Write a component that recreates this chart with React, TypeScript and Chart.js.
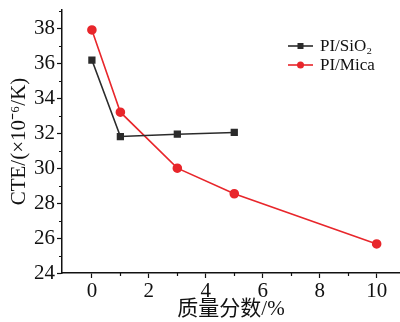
import React, { useEffect, useRef } from "react";
import { Chart, registerables } from "chart.js";

Chart.register(...registerables);

const sio2X = [0, 1, 3, 5];
const sio2Y = [36.17, 31.8, 31.93, 32.03];
const micaX = [0, 1, 3, 5, 10];
const micaY = [37.89, 33.19, 29.99, 28.53, 25.66];
const seriesLabels = ["PI/SiO\u2082", "PI/Mica"];
const xMajorTicks = [0, 2, 4, 6, 8, 10];
const xMinorTicks = [1, 3, 5, 7, 9];
const yMajorTicks = [24, 26, 28, 30, 32, 34, 36, 38];
const yMinorTicks = [25, 27, 29, 31, 33, 35, 37, 39];
const xTitle = "质量分数/%";
const yTitle = "CTE/(×10\u207B\u2076/K)";

const BLACK = "#2b2b2b";
const RED = "#e8262b";
const FONT = "'Liberation Serif', 'Times New Roman', 'Noto Sans CJK SC', serif";

const extrasPlugin = {
  id: "extras",
  afterDraw(chart: any) {
    const ctx = chart.ctx;
    const xs = chart.scales.x;
    const ys = chart.scales.y;
    const area = chart.chartArea;
    ctx.save();
    ctx.strokeStyle = "#111";
    ctx.lineWidth = 1.2;
    ctx.beginPath();
    xMinorTicks.forEach((v) => {
      const px = Math.round(xs.getPixelForValue(v)) + 0.5;
      ctx.moveTo(px, area.bottom);
      ctx.lineTo(px, area.bottom + 3);
    });
    yMinorTicks.forEach((v) => {
      const py = Math.round(ys.getPixelForValue(v)) + 0.5;
      ctx.moveTo(area.left, py);
      ctx.lineTo(area.left - 3, py);
    });
    ctx.stroke();

    // legend
    const rows = [46, 65];
    chart.data.datasets.forEach((ds: any, i: number) => {
      const y = rows[i];
      ctx.strokeStyle = ds.borderColor;
      ctx.lineWidth = 1.6;
      ctx.beginPath();
      ctx.moveTo(288, y);
      ctx.lineTo(313, y);
      ctx.stroke();
      ctx.fillStyle = ds.pointBackgroundColor;
      if (ds.pointStyle === "rect") {
        ctx.fillRect(300.5 - 3, y - 3, 6, 6);
      } else {
        ctx.beginPath();
        ctx.arc(300.5, y, 3.5, 0, Math.PI * 2);
        ctx.fill();
      }
      ctx.fillStyle = "#111";
      ctx.font = `17px ${FONT}`;
      ctx.textAlign = "left";
      ctx.textBaseline = "middle";
      ctx.fillText(ds.label, 320, y + 1);
    });
    ctx.restore();
  },
};

export default function App() {
  const ref = useRef<HTMLCanvasElement | null>(null);
  useEffect(() => {
    if (!ref.current) return;
    const chart = new Chart(ref.current, {
      type: "line",
      data: {
        datasets: [
          {
            label: seriesLabels[0],
            data: sio2X.map((x, i) => ({ x, y: sio2Y[i] })),
            borderColor: BLACK,
            backgroundColor: BLACK,
            pointBackgroundColor: BLACK,
            pointBorderColor: BLACK,
            pointStyle: "rect",
            pointRadius: 4,
            borderWidth: 1.6,
            tension: 0,
          },
          {
            label: seriesLabels[1],
            data: micaX.map((x, i) => ({ x, y: micaY[i] })),
            borderColor: RED,
            backgroundColor: RED,
            pointBackgroundColor: RED,
            pointBorderColor: RED,
            pointStyle: "circle",
            pointRadius: 4,
            borderWidth: 1.6,
            tension: 0,
          },
        ],
      },
      options: {
        animation: false,
        responsive: false,
        maintainAspectRatio: false,
        layout: { autoPadding: false, padding: { top: 10, right: 0, left: 0, bottom: 0 } },
        plugins: { legend: { display: false }, tooltip: { enabled: false } },
        scales: {
          x: {
            type: "linear",
            min: -1.05,
            max: 10.82,
            afterBuildTicks: (s: any) => {
              s.ticks = xMajorTicks.map((v) => ({ value: v }));
            },
            afterFit: (s: any) => {
              s.height = 49;
              s.paddingRight = 0;
              s.paddingLeft = 0;
            },
            grid: {
              display: true,
              drawOnChartArea: false,
              drawTicks: true,
              tickLength: 5,
              tickColor: "#111",
              tickWidth: 1.2,
            },
            border: { display: true, color: "#111", width: 1.5 },
            ticks: {
              color: "#111",
              font: { family: FONT, size: 21 },
              padding: 1,
              maxRotation: 0,
              autoSkip: false,
            },
            title: {
              display: true,
              text: xTitle,
              color: "#111",
              font: { family: FONT, size: 21 },
              padding: { top: -1, bottom: 0 },
            },
          },
          y: {
            type: "linear",
            min: 24,
            max: 39.03,
            afterBuildTicks: (s: any) => {
              s.ticks = yMajorTicks.map((v) => ({ value: v }));
            },
            afterFit: (s: any) => {
              s.width = 62;
              s.paddingTop = 0;
              s.paddingBottom = 0;
            },
            grid: {
              display: true,
              drawOnChartArea: false,
              drawTicks: true,
              tickLength: 5,
              tickColor: "#111",
              tickWidth: 1.2,
            },
            border: { display: true, color: "#111", width: 1.5 },
            ticks: {
              color: "#111",
              font: { family: FONT, size: 21 },
              padding: 2,
              autoSkip: false,
            },
            title: {
              display: true,
              text: yTitle,
              color: "#111",
              font: { family: FONT, size: 21 },
              padding: { top: 7, bottom: 0 },
            },
          },
        },
      },
      plugins: [extrasPlugin],
    } as any);
    return () => chart.destroy();
  }, []);
  return (
    <div style={{ position: "absolute", left: 0, top: 0, width: 400, height: 322, background: "#fff" }}>
      <canvas ref={ref} width={400} height={322} style={{ width: 400, height: 322 }} />
    </div>
  );
}
